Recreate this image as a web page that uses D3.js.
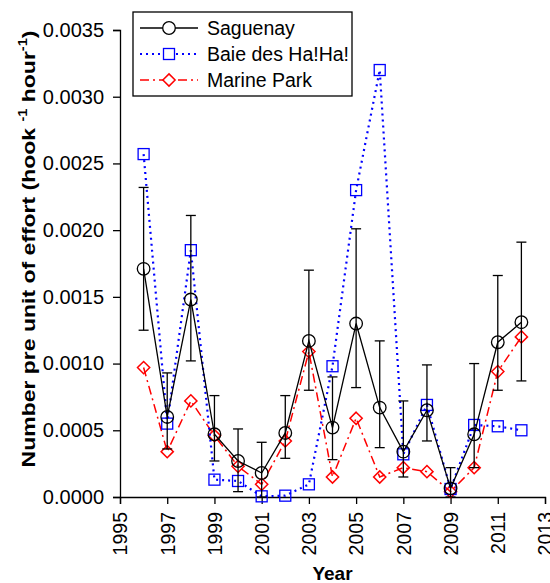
<!DOCTYPE html>
<html>
<head>
<meta charset="utf-8">
<script src="https://cdn.jsdelivr.net/npm/d3@7"></script>
<style>
  body { margin: 0; background: #fff; }
  svg text { font-family: "Liberation Sans", Arial, sans-serif; }
</style>
</head>
<body>
<div id="chart"></div>
<script>
// data
var years = [1996, 1997, 1998, 1999, 2000, 2001, 2002, 2003, 2004, 2005, 2006, 2007, 2008, 2009, 2010, 2011, 2012];
var saguenay = [0.00171, 0.00060, 0.00148, 0.00047, 0.00027, 0.00018, 0.00048, 0.00117, 0.00052, 0.00130, 0.00067, 0.00034, 0.00065, 0.000065, 0.00047, 0.00116, 0.00131];
var sagUpper = [0.00232, 0.00093, 0.00211, 0.00076, 0.00051, 0.00041, 0.00076, 0.00170, 0.00090, 0.00201, 0.00117, 0.00072, 0.00099, 0.00022, 0.00100, 0.00166, 0.00191];
var sagLower = [0.00125, 0.00036, 0.00102, 0.00027, 0.00004, 0.00000, 0.00029, 0.00080, 0.00028, 0.00082, 0.00037, 0.00015, 0.00042, 0.00000, 0.00022, 0.00080, 0.00087];
var baie = [0.00257, 0.00055, 0.00185, 0.00013, 0.00012, 0.000005, 0.00001, 0.000095, 0.00098, 0.00230, 0.00320, 0.00032, 0.00069, 0.00006, 0.00054, 0.00053, 0.00050];
var marine = [0.00097, 0.00034, 0.00072, 0.00046, 0.00023, 0.000095, 0.00042, 0.00109, 0.00015, 0.00059, 0.00015, 0.00022, 0.00019, 0.00004, 0.00022, 0.00094, 0.00120];
var xTicks = [1995, 1997, 1999, 2001, 2003, 2005, 2007, 2009, 2011, 2013];
var yTicks = [0, 0.0005, 0.0010, 0.0015, 0.0020, 0.0025, 0.0030, 0.0035];
var seriesNames = ["Saguenay", "Baie des Ha!Ha!", "Marine Park"];

var width = 550, height = 583;
var margin = { top: 30, left: 120, right: 5, bottom: 86 };

var svg = d3.select("#chart").append("svg")
    .attr("width", width)
    .attr("height", height);

var x = d3.scaleLinear().domain([1995, 2013]).range([margin.left, width - margin.right]);
var y = d3.scaleLinear().domain([0, 0.0035]).range([height - margin.bottom, margin.top]);

// axes
var xAxis = svg.append("g")
    .attr("transform", "translate(0," + (height - margin.bottom) + ")")
    .call(d3.axisBottom(x).tickValues(xTicks).tickFormat(d3.format("d")).tickSizeOuter(0).tickSize(7));
xAxis.selectAll("text")
    .attr("transform", "rotate(-90)")
    .attr("x", -15).attr("y", 0).attr("dy", "0.35em")
    .style("text-anchor", "end")
    .style("font-size", "19.5px");

var yAxis = svg.append("g")
    .attr("transform", "translate(" + margin.left + ",0)")
    .call(d3.axisLeft(y).tickValues(yTicks).tickFormat(d3.format(".4f")).tickSizeOuter(0).tickSize(7).tickPadding(9));
yAxis.selectAll("text").style("font-size", "20px");

svg.selectAll(".domain, .tick line").attr("stroke", "#000").attr("stroke-width", 1.3);
svg.selectAll(".tick text").attr("fill", "#000");

// axis titles
svg.append("text")
    .attr("x", x(2004)).attr("y", 580)
    .attr("text-anchor", "middle")
    .style("font-size", "19px").style("font-weight", "bold")
    .text("Year");

var yl = svg.append("text")
    .attr("transform", "translate(35,249) rotate(-90) scale(1.21,1)")
    .attr("text-anchor", "middle")
    .style("font-size", "19px").style("font-weight", "bold");
yl.append("tspan").text("Number pre unit of effort (hook ");
yl.append("tspan").attr("dy", -8).style("font-size", "12px").text("-1");
yl.append("tspan").attr("dy", 8).text(" hour");
yl.append("tspan").attr("dy", -8).style("font-size", "12px").text("-1");
yl.append("tspan").attr("dy", 8).text(")");

var line = d3.line().x(function (d) { return x(d[0]); }).y(function (d) { return y(d[1]); });
var diamond = d3.symbol().type(d3.symbolDiamond2).size(95);

// Marine Park
var mData = d3.zip(years, marine);
svg.append("path").datum(mData).attr("d", line)
    .attr("fill", "none").attr("stroke", "#ff0000").attr("stroke-width", 1.5)
    .attr("stroke-dasharray", "9,4,2,4");
svg.selectAll(".mk-marine").data(mData).enter().append("path")
    .attr("class", "mk-marine")
    .attr("d", diamond)
    .attr("transform", function (d) { return "translate(" + x(d[0]) + "," + y(d[1]) + ")"; })
    .attr("fill", "none").attr("stroke", "#ff0000").attr("stroke-width", 1.5);

// Baie des Ha!Ha!
var bData = d3.zip(years, baie);
svg.append("path").datum(bData).attr("d", line)
    .attr("fill", "none").attr("stroke", "#0000ff").attr("stroke-width", 2.2)
    .attr("stroke-dasharray", "2,4");
svg.selectAll(".mk-baie").data(bData).enter().append("rect")
    .attr("class", "mk-baie")
    .attr("x", function (d) { return x(d[0]) - 5.5; })
    .attr("y", function (d) { return y(d[1]) - 5.5; })
    .attr("width", 11).attr("height", 11)
    .attr("fill", "none").attr("stroke", "#0000ff").attr("stroke-width", 1.3);

// Saguenay with error bars
var sData = years.map(function (yr, i) { return { yr: yr, v: saguenay[i], hi: sagUpper[i], lo: sagLower[i] }; });
var eb = svg.append("g").attr("stroke", "#000").attr("stroke-width", 1.3);
sData.forEach(function (d) {
    eb.append("line").attr("x1", x(d.yr)).attr("x2", x(d.yr)).attr("y1", y(d.hi)).attr("y2", y(d.lo));
    eb.append("line").attr("x1", x(d.yr) - 5).attr("x2", x(d.yr) + 5).attr("y1", y(d.hi)).attr("y2", y(d.hi));
    eb.append("line").attr("x1", x(d.yr) - 5).attr("x2", x(d.yr) + 5).attr("y1", y(d.lo)).attr("y2", y(d.lo));
});
svg.append("path").datum(d3.zip(years, saguenay)).attr("d", line)
    .attr("fill", "none").attr("stroke", "#000").attr("stroke-width", 1.3);
svg.selectAll(".mk-sag").data(sData).enter().append("circle")
    .attr("class", "mk-sag")
    .attr("cx", function (d) { return x(d.yr); })
    .attr("cy", function (d) { return y(d.v); })
    .attr("r", 6.3)
    .attr("fill", "none").attr("stroke", "#000").attr("stroke-width", 1.3);

// legend
var lg = svg.append("g").attr("transform", "translate(133,12)");
lg.append("rect").attr("width", 219).attr("height", 84)
    .attr("fill", "#fff").attr("stroke", "#000").attr("stroke-width", 1.3);
var rows = [16, 42, 68];
var styles = [
    { stroke: "#000", dash: null, w: 1.3 },
    { stroke: "#0000ff", dash: "2,4", w: 2.2 },
    { stroke: "#ff0000", dash: "9,4,2,4", w: 1.5 }
];
rows.forEach(function (ry, i) {
    lg.append("line").attr("x1", 7).attr("x2", 65).attr("y1", ry).attr("y2", ry)
        .attr("stroke", styles[i].stroke).attr("stroke-width", styles[i].w)
        .attr("stroke-dasharray", styles[i].dash);
    lg.append("text").attr("x", 74).attr("y", ry).attr("dy", "0.35em")
        .style("font-size", "19.5px").text(seriesNames[i]);
});
lg.append("circle").attr("cx", 36).attr("cy", rows[0]).attr("r", 6.3)
    .attr("fill", "#fff").attr("stroke", "#000").attr("stroke-width", 1.3);
lg.append("rect").attr("x", 30.5).attr("y", rows[1] - 5.5).attr("width", 11).attr("height", 11)
    .attr("fill", "#fff").attr("stroke", "#0000ff").attr("stroke-width", 1.3);
lg.append("path").attr("d", diamond).attr("transform", "translate(36," + rows[2] + ")")
    .attr("fill", "#fff").attr("stroke", "#ff0000").attr("stroke-width", 1.5);
</script>
</body>
</html>
